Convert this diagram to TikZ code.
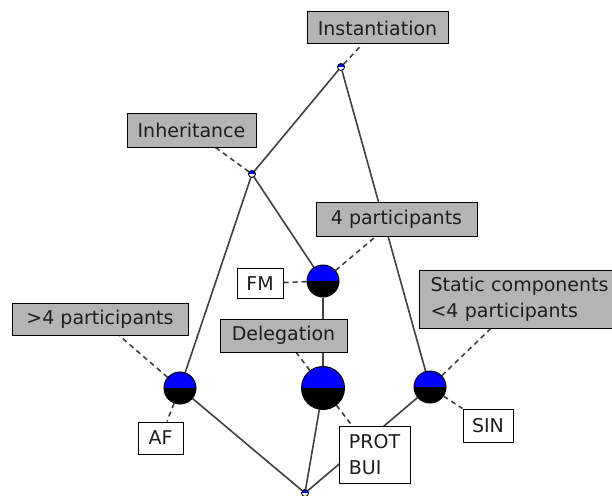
\documentclass[tikz,border=0pt]{standalone}
\usepackage{fontspec}
\setmainfont{DejaVu Sans}
\usetikzlibrary{backgrounds}
\definecolor{boxgray}{RGB}{180,180,180}
\definecolor{txt}{RGB}{30,30,30}
\definecolor{edgecol}{RGB}{64,64,64}
\begin{document}
\begin{tikzpicture}[x=1pt,y=-1pt,
  lbl/.style={draw=black, line width=1pt, fill=boxgray, inner sep=0pt,
    font=\fontsize{19}{25.5}\selectfont, text=txt, align=left},
  wlbl/.style={lbl, fill=white},
  ball/.style={circle, draw=black, line width=1pt, inner sep=0pt,
    path picture={
      \fill[blue] (path picture bounding box.west) rectangle (path picture bounding box.north east);
      \fill[black] (path picture bounding box.west) rectangle (path picture bounding box.south east);}},
  dotnode/.style={circle, draw=black, line width=0.9pt, inner sep=0pt, minimum size=7pt,
    path picture={
      \fill[blue] (path picture bounding box.west) rectangle (path picture bounding box.north east);
      \fill[white] (path picture bounding box.west) rectangle (path picture bounding box.south east);}},
  edge/.style={draw=edgecol, line width=1.6pt},
  note/.style={draw=edgecol, line width=1.6pt, dash pattern=on 5pt off 4pt}
]
\useasboundingbox (0,0) rectangle (612,495);
\clip (0,0) rectangle (612,495);

% lattice nodes
\node[dotnode] (top) at (341,67) {};
\node[dotnode] (inh) at (252,174) {};
\node[ball, minimum size=32pt] (fm) at (323,281) {};
\node[ball, minimum size=32pt] (af) at (180,388) {};
\node[ball, minimum size=43pt] (del) at (323,388) {};
\node[ball, minimum size=32pt] (sin) at (430,387) {};
\node[dotnode] (bot) at (305,493) {};

% labels
\node[lbl, minimum width=141pt, minimum height=32pt] (inst) at (377.5,28) {Instantiation};
\node[lbl, minimum width=129pt, minimum height=34pt] (inhl) at (191.5,130) {Inheritance};
\node[lbl, minimum width=161pt, minimum height=34pt] (four) at (396.5,219) {4 participants};
\node[wlbl, minimum width=46pt, minimum height=30pt] (fmb) at (260,283.5) {FM};
\node[lbl, minimum width=176pt, minimum height=32pt] (gt4) at (100,319) {>4 participants};
\node[wlbl, minimum width=45pt, minimum height=32pt] (afb) at (160.5,438) {AF};
\node[lbl, minimum width=127pt, minimum height=33pt] (dell) at (283.5,335.5) {Delegation};
\node[wlbl, minimum width=71pt, minimum height=57pt] (prot) at (374.5,454.5) {PROT\\BUI};
\node[lbl, anchor=north west, inner xsep=11pt, text width=181pt, minimum height=58pt] (stat) at (419,270) {Static components\\<4 participants};
\node[wlbl, minimum width=50pt, minimum height=33pt] (sinb) at (488,425.5) {SIN};

\begin{scope}[on background layer]
  \fill[white] (0,0) rectangle (612,495);
  \draw[edge] (top) -- (inh);
  \draw[edge] (top) -- (sin);
  \draw[edge] (inh) -- (fm);
  \draw[edge] (inh) -- (af);
  \draw[edge] (fm) -- (del);
  \draw[edge] (af) -- (bot);
  \draw[edge] (del) -- (bot);
  \draw[edge] (sin) -- (bot);
  \draw[note] (top) -- (inst);
  \draw[note] (inh) -- (inhl);
  \draw[note] (fm) -- (four);
  \draw[note] (fm) -- (fmb);
  \draw[note] (af) -- (gt4);
  \draw[note] (af) -- (afb);
  \draw[note] (del) -- (dell);
  \draw[note] (del) -- (prot);
  \draw[note] (sin) -- (stat.center);
  \draw[note] (sin) -- (sinb);
\end{scope}
\end{tikzpicture}
\end{document}
